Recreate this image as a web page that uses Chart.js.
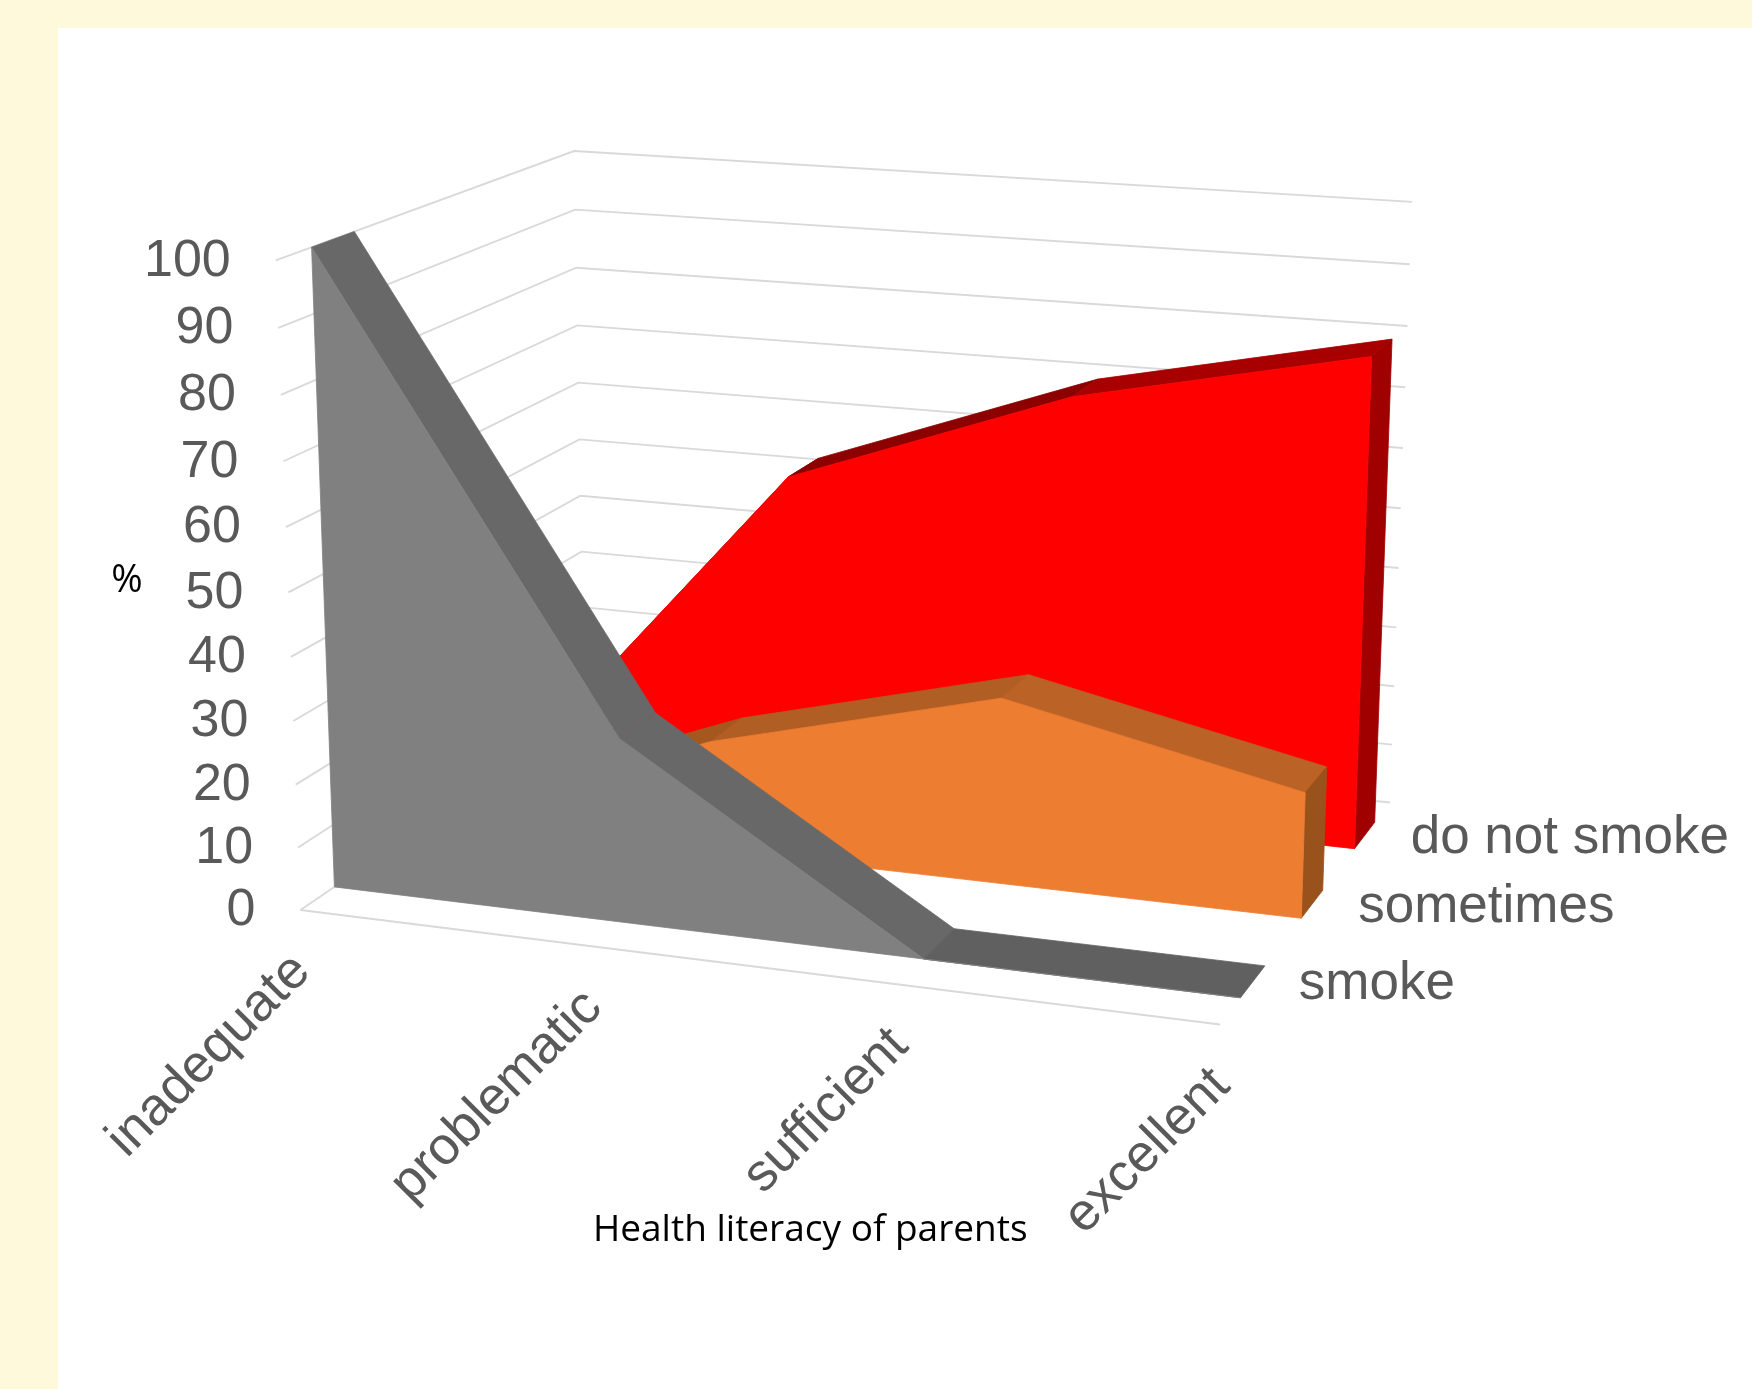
<!DOCTYPE html>
<html>
<head>
<meta charset="utf-8">
<title>Smoking by health literacy of parents</title>
<script src="https://cdn.jsdelivr.net/npm/chart.js@4"></script>
<style>
    html, body { margin: 0; height: 100%; background: #fff9db; overflow: hidden; }
    #paper { position: absolute; left: 58px; top: 28px; right: 0; bottom: 0; background: #fff; }
    #myChart { position: absolute; left: 0; top: 0; }
</style>
</head>
<body>
<div id="paper"></div>
<canvas id="myChart" width="1752" height="1389"></canvas>
<script>
const categories = ['inadequate', 'problematic', 'sufficient', 'excellent'];
const yTicks = [0, 10, 20, 30, 40, 50, 60, 70, 80, 90, 100];

const smoke = [100, 29, 0, 0];
const sometimes = [0, 18, 30, 20];
const doNotSmoke = [0, 53, 70, 80];

// perspective camera: floor origin, axis vectors and the homogeneous divisor
const view = {
    ox: 300.5, oy: 910,
    ux: 833.6, uy: 42.4,
    dx: 375.3, dy: -80.9,
    vx: -36.6, vy: -660.9,
    wu: -0.0704, wd: 0.1564, wv: -0.043
};

// u along the categories (0-1), d into the depth (0-1), v in percent
function project(u, d, v) {
    const t = v / 100;
    const w = 1 + view.wu * u + view.wd * d + view.wv * t;
    return {
        x: (view.ox + view.ux * u + view.dx * d + view.vx * t) / w,
        y: (view.oy + view.uy * u + view.dy * d + view.vy * t) / w
    };
}

const lastCat = categories.length - 1;
const shapes = [];

function addLine(label, points, color, width) {
    shapes.push({
        label: label, data: points, showLine: true, fill: false, pointRadius: 0,
        borderColor: color, borderWidth: width, polygon: false
    });
}

function addPolygon(label, points, color) {
    shapes.push({
        label: label, data: points.concat(points[0]), showLine: true, fill: false, pointRadius: 0,
        borderColor: color, borderWidth: 0.8, backgroundColor: color, polygon: true
    });
}

function addSeries(name, values, depthFront, depthBack, ribbonColors, sideColor, faceColor) {
    values.slice(0, -1).forEach(function(value, i) {
        addPolygon(name + ' top ' + i, [
            project(i / lastCat, depthFront, value),
            project((i + 1) / lastCat, depthFront, values[i + 1]),
            project((i + 1) / lastCat, depthBack, values[i + 1]),
            project(i / lastCat, depthBack, value)
        ], ribbonColors[i]);
    });

    const end = values[lastCat];
    if (end > 0) {
        addPolygon(name + ' side', [
            project(1, depthFront, 0),
            project(1, depthBack, 0),
            project(1, depthBack, end),
            project(1, depthFront, end)
        ], sideColor);
    }

    const outline = values.map((value, i) => project(i / lastCat, depthFront, value));
    outline.push(project(1, depthFront, 0), project(0, depthFront, 0));
    addPolygon(name, outline, faceColor);
}

// walls and floor first, the nearest series last
yTicks.forEach(function(tick) {
    addLine('grid ' + tick, [project(0, 0, tick), project(0, 1, tick), project(1, 1, tick)], '#d9d9d9', 1.9);
});
addLine('floor', [project(0, 0, 0), project(1, 0, 0)], '#d9d9d9', 1.9);

addSeries('do not smoke', doNotSmoke, 0.765, 0.897, ['#8c0000', '#8c0000', '#a80000'], '#a00000', '#ff0000');
addSeries('sometimes', sometimes, 0.44, 0.567, ['#a45820', '#b05e24', '#bb6327'], '#9a521c', '#ed7d31');
addSeries('smoke', smoke, 0.105, 0.235, ['#686868', '#686868', '#606060'], '#606060', '#808080');

// closes each dataset's points into a filled shape, placed through the chart scales
const polygonFill = {
    id: 'polygonFill',
    beforeDatasetDraw: function(chart, args) {
        if (!chart.data.datasets[args.index].polygon) return;
        const ctx = chart.ctx;
        const points = args.meta.data;
        ctx.save();
        ctx.beginPath();
        points.forEach(function(point, i) {
            if (i === 0) ctx.moveTo(point.x, point.y);
            else ctx.lineTo(point.x, point.y);
        });
        ctx.closePath();
        ctx.fillStyle = chart.data.datasets[args.index].backgroundColor;
        ctx.fill();
        ctx.restore();
    }
};

// tick labels, category labels, series labels and axis titles
const axisText = {
    id: 'axisText',
    afterDraw: function(chart) {
        const ctx = chart.ctx;
        const px = p => chart.scales.x.getPixelForValue(p.x);
        const py = p => chart.scales.y.getPixelForValue(p.y);

        ctx.save();
        ctx.fillStyle = '#595959';
        ctx.font = '52px "Liberation Sans"';
        ctx.textBaseline = 'middle';

        ctx.textAlign = 'right';
        yTicks.forEach(function(tick) {
            const p = project(0, 0, tick);
            ctx.fillText(String(tick), px(p) - 45, py(p) + 1);
        });

        ctx.font = '53px "Liberation Sans"';
        categories.forEach(function(name, i) {
            const p = project(i / lastCat, 0, 0);
            ctx.save();
            ctx.translate(px(p) + 1.5, py(p) + 53);
            ctx.rotate(-Math.PI / 4);
            ctx.fillText(name, 0, 0);
            ctx.restore();
        });

        ctx.textAlign = 'left';
        [['smoke', 0.17], ['sometimes', 0.504], ['do not smoke', 0.831]].forEach(function(row) {
            const p = project(1, row[1], 0);
            ctx.fillText(row[0], px(p) + 46, py(p) + 3);
        });

        ctx.fillStyle = '#000';
        ctx.font = '37px "Open Sans"';
        ctx.textAlign = 'left';
        ctx.fillText('Health literacy of parents', 593, 1230);
        ctx.font = '38px "Open Sans"';
        ctx.textAlign = 'center';
        ctx.fillText('%', 127, 581);
        ctx.restore();
    }
};

const ctx = document.getElementById('myChart').getContext('2d');
const myChart = new Chart(ctx, {
    type: 'scatter',
    data: {
        // the first dataset is painted last
        datasets: shapes.slice().reverse()
    },
    plugins: [polygonFill, axisText],
    options: {
        responsive: false,
        animation: false,
        layout: { padding: 0 },
        plugins: {
            legend: { display: false },
            tooltip: { enabled: false }
        },
        scales: {
            x: { type: 'linear', min: 0, max: 1752, display: false },
            y: { type: 'linear', min: 0, max: 1389, reverse: true, display: false }
        }
    }
});
</script>
</body>
</html>
